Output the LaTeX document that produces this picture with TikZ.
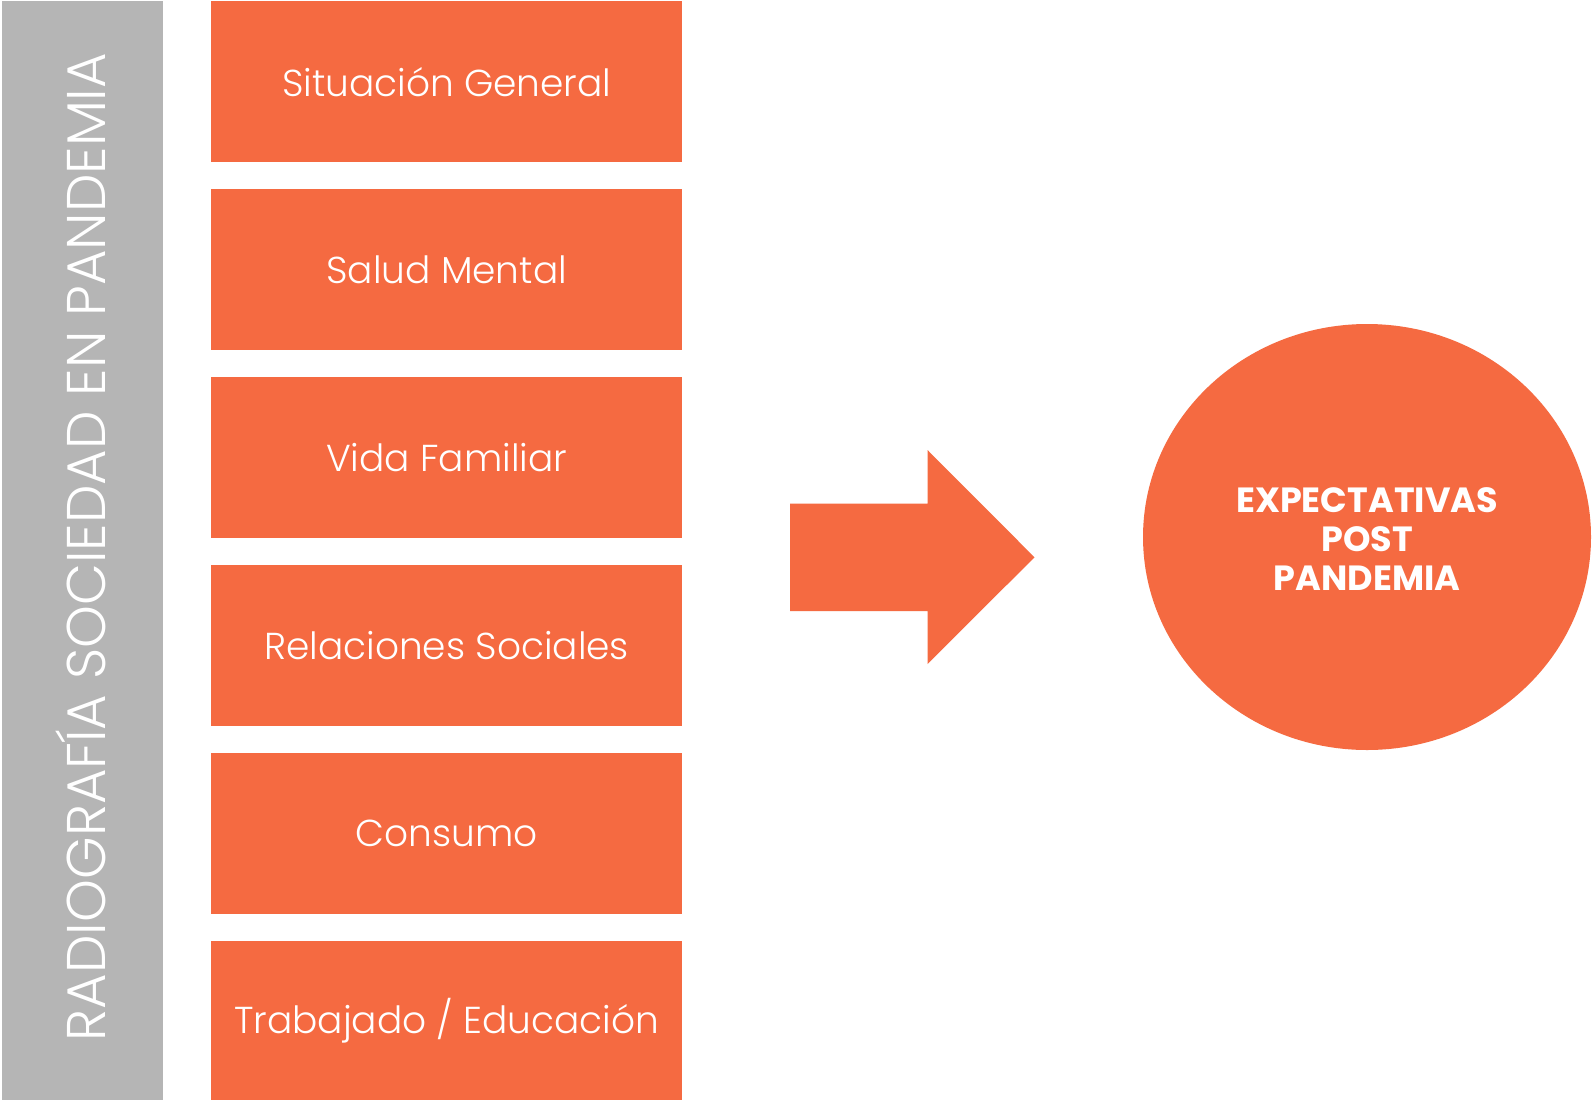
\documentclass[tikz,border=0pt]{standalone}
\usepackage{fontspec}
\setmainfont{Poppins}
\newfontfamily\lightfont{Poppins Light}
\usetikzlibrary{shapes.geometric}
\definecolor{orng}{RGB}{245,106,65}
\definecolor{gry}{RGB}{181,181,181}
\begin{document}
\begin{tikzpicture}[x=1pt,y=-1pt,
  catbox/.style={fill=orng,draw=none,minimum width=471pt,minimum height=161pt,inner sep=0pt,anchor=north west,text=white,font=\lightfont\fontsize{37.5}{42}\selectfont},
]
\useasboundingbox (0,0) rectangle (1594,1101);
\fill[white] (0,0) rectangle (1594,1101);
\node[fill=gry,minimum width=161pt,minimum height=1099pt,inner sep=0pt,anchor=north west] (bar) at (2,1) {};
\node[rotate=90,text=white,font=\lightfont\fontsize{54.5}{58}\selectfont] (bartext) at (81,547) {RADIOGRAFÍA SOCIEDAD EN PANDEMIA};
\node[catbox] (b1) at (211,1) {Situación General};
\node[catbox] (b2) at (211,189) {Salud Mental};
\node[catbox] (b3) at (211,377) {Vida Familiar};
\node[catbox] (b4) at (211,565) {Relaciones Sociales};
\node[catbox] (b5) at (211,753) {Consumo};
\node[catbox,minimum height=159pt] (b6) at (211,941) {Trabajado / Educación};
\fill[orng] (790,503.5) -- (927.5,503.5) -- (927.5,450) -- (1034.5,557.3) -- (927.5,664) -- (927.5,611) -- (790,611) -- cycle;
\node[ellipse,fill=orng,minimum width=448pt,minimum height=426pt,inner sep=0pt] (ell) at (1367,537) {};
\node[text=white,align=center,font=\bfseries\fontsize{35}{39}\selectfont] (elltext) at (1367,539) {EXPECTATIVAS\\POST\\PANDEMIA};
\end{tikzpicture}
\end{document}
